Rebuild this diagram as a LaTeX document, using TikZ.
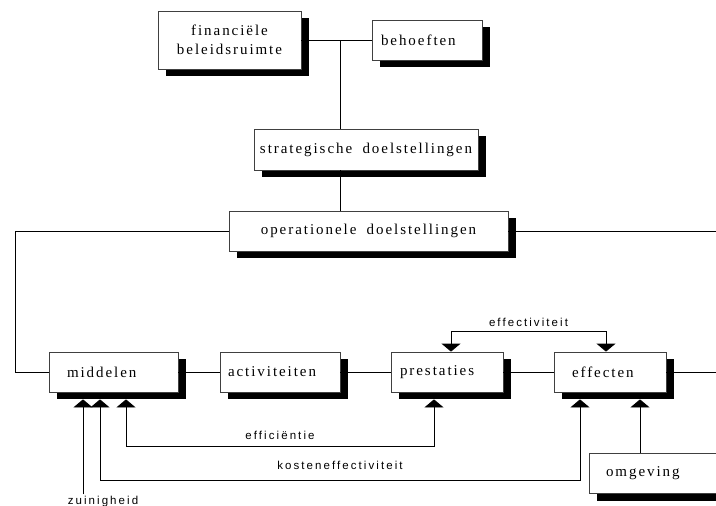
\documentclass[tikz,border=0pt]{standalone}
\usepackage{fontspec}
\usetikzlibrary{shadows,arrows.meta}
\newfontfamily\blokfont[LetterSpace=13,WordSpace=1.8]{Liberation Serif}
\newfontfamily\labelfont[LetterSpace=18]{Liberation Sans}

\tikzset{
  blok/.style={draw=black!75, line width=0.8pt, fill=white,
    font=\blokfont\fontsize{15}{19}\selectfont,
    minimum height=40pt, inner ysep=0pt,
    drop shadow={shadow xshift=8pt, shadow yshift=-7pt, opacity=1, fill=black}},
  links/.style 2 args={align=left, text width=#1, inner xsep=#2},
  lijn/.style={line width=0.8pt},
  pijl/.style={lijn, -{Triangle[width=19pt,length=8pt]}},
  tweepijl/.style={lijn, {Triangle[width=19pt,length=8pt]}-{Triangle[width=19pt,length=8pt]}},
  tekst/.style={font=\labelfont\fontsize{11.5}{13}\selectfont, inner sep=1pt}
}

\begin{document}
\begin{tikzpicture}[x=1pt,y=-1pt]
    \useasboundingbox[fill=white] (0,0) rectangle (716,506);

    % Doelstellingen
    \node[blok, minimum width=143pt, minimum height=58pt, align=center] (fin) at (229.5,40) {financiële\\beleidsruimte};
    \node[blok, links={92pt}{9pt}] (beh) at (427,40) {behoeften};
    \node[blok, minimum width=224pt, minimum height=41pt] (strat) at (366,149.5) {strategische doelstellingen};
    \node[blok, minimum width=279pt] (oper) at (368.5,231) {operationele doelstellingen\hspace{12pt}};

    % Keten
    \node[blok, links={93pt}{18pt}] (mid) at (113.5,372) {middelen};
    \node[blok, links={104pt}{8pt}] (act) at (280,372) {activiteiten};
    \node[blok, links={94pt}{9pt}] (prest) at (447,372) {prestaties};
    \node[blok, links={76pt}{18pt}] (eff) at (610,372) {effecten};
    \node[blok, links={106pt}{17pt}] (omg) at (659,473.5) {omgeving};

    \coordinate (knik) at (340,40);
    \coordinate (links) at (15,372);
    \coordinate (rechts) at (716,231);
    \coordinate (uit) at (716,372);
    \coordinate (effpunt) at ([xshift=30pt,yshift=-7pt]eff.south);

    % Verbindingen
    \draw[lijn] (fin.east) -- (beh.west);
    \draw[lijn] (knik) -- (knik |- strat.north);
    \draw[lijn] (knik |- strat.south) -- (knik |- oper.north);
    \draw[lijn] (oper.west) -| (links) -- (mid.west);
    \draw[lijn] (oper.east) -- (rechts);
    \draw[lijn] (mid.east) -- (act.west);
    \draw[lijn] (act.east) -- (prest.west);
    \draw[lijn] (prest.east) -- (eff.west);
    \draw[lijn] (eff.east) -- (uit);

    % Maatstaven
    \draw[tweepijl] ([xshift=4pt]prest.north) -- ++(0,-20) -| node[pos=.25, above=4pt, tekst] {effectiviteit} ([xshift=-4pt]eff.north);
    \draw[tweepijl] ([xshift=12.5pt,yshift=-7pt]mid.south) -- ++(0,47) -| node[pos=.25, above=5pt, tekst] {efficiëntie} ([xshift=-13pt,yshift=-7pt]prest.south);
    \draw[tweepijl] ([xshift=-13.5pt,yshift=-7pt]mid.south) -- ++(0,81) -| node[pos=.25, above=9pt, tekst] {kosteneffectiviteit} ([xshift=-30pt,yshift=-7pt]eff.south);
    \node[tekst, anchor=base] (zuin) at (103,504) {zuinigheid};
    \draw[pijl] ([xshift=-20pt]zuin.north) -- ([xshift=-30.5pt,yshift=-7pt]mid.south);
    \draw[pijl] (effpunt |- omg.north) -- (effpunt);

\end{tikzpicture}
\end{document}
